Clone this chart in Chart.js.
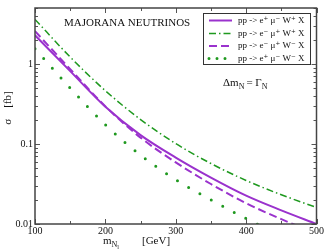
<!DOCTYPE html>
<html>
<head>
<meta charset="utf-8" />
<title>Majorana neutrinos</title>
<script src="https://cdn.jsdelivr.net/npm/chart.js@4.4.0/dist/chart.umd.min.js"></script>
<style>
  html, body { margin: 0; padding: 0; background: #fff; }
  #box { width: 325px; height: 251px; }
</style>
</head>
<body>
<div id="box"><canvas id="c"></canvas></div>
<script>
// masses in GeV
const masses = [100, 150, 200, 250, 300, 350, 400, 450, 500];
// cross sections in fb
const epMumWp = [2.28, 0.813, 0.292, 0.129, 0.0676, 0.038, 0.0226, 0.0148, 0.0100];
const emMupWp = [3.6, 1.22, 0.463, 0.202, 0.101, 0.057, 0.035, 0.0232, 0.0161];
const emMupWm = [2.57, 0.861, 0.295, 0.120, 0.0589, 0.0316, 0.0182, 0.0115, 0.0076];
const epMumWm = [1.55, 0.50, 0.174, 0.0724, 0.0359, 0.020, 0.0117, 0.0071, 0.0044];
const seriesLabels = ['pp -> e\u207A \u03BC\u207B W\u207A X', 'pp -> e\u207B \u03BC\u207A W\u207A X',
                      'pp -> e\u207B \u03BC\u207A W\u207B X', 'pp -> e\u207A \u03BC\u207B W\u207B X'];
const xTicks = [100, 200, 300, 400, 500];
const yTicks = [0.01, 0.1, 1];

const purple = '#9a32cd';
const green = '#1f991f';
const serif = '"Liberation Serif", "DejaVu Serif", serif';

function pts(ys) {
  return masses.map(function (m, i) { return { x: m, y: ys[i] }; });
}

const datasets = [
  { label: seriesLabels[0], data: pts(epMumWp), borderColor: purple, borderWidth: 2 },
  { label: seriesLabels[1], data: pts(emMupWp), borderColor: green, borderWidth: 1.5, borderDash: [7, 3, 1.5, 3] },
  { label: seriesLabels[2], data: pts(emMupWm), borderColor: purple, borderWidth: 2, borderDash: [8, 4] },
  { label: seriesLabels[3], data: pts(epMumWm), borderColor: green, borderWidth: 3, borderDash: [0, 13], borderCapStyle: 'round' }
];
datasets.forEach(function (d) {
  d.pointRadius = 0;
  d.fill = false;
  d.cubicInterpolationMode = 'monotone';
});

// frame, inward ticks, legend box and the extra texts
const decor = {
  id: 'decor',
  afterDraw: function (chart) {
    const ctx = chart.ctx;
    const a = chart.chartArea;
    const xs = chart.scales.x, ys = chart.scales.y;
    ctx.save();
    ctx.strokeStyle = '#555';
    ctx.lineWidth = 1;
    // x ticks top and bottom
    for (let v = 100; v <= 500; v += 50) {
      const px = Math.round(xs.getPixelForValue(v)) + 0.5;
      const len = (v % 100 === 0) ? 5 : 3;
      ctx.beginPath();
      ctx.moveTo(px, a.bottom); ctx.lineTo(px, a.bottom - len);
      ctx.moveTo(px, a.top); ctx.lineTo(px, a.top + len);
      ctx.stroke();
    }
    // y ticks left and right
    for (let e = -2; e <= 0; e++) {
      for (let k = 1; k <= 9; k++) {
        const v = k * Math.pow(10, e);
        if (v > ys.max) continue;
        const py = Math.round(ys.getPixelForValue(v)) + 0.5;
        const len = (k === 1) ? 5 : 3;
        ctx.beginPath();
        ctx.moveTo(a.left, py); ctx.lineTo(a.left + len, py);
        ctx.moveTo(a.right, py); ctx.lineTo(a.right - len, py);
        ctx.stroke();
      }
    }
    // frame
    ctx.strokeStyle = '#444';
    ctx.lineWidth = 1.5;
    ctx.strokeRect(a.left, a.top, a.right - a.left, a.bottom - a.top);

    // legend
    ctx.lineWidth = 1;
    ctx.strokeStyle = '#333';
    ctx.fillStyle = '#fff';
    ctx.fillRect(203.5, 13.5, 107, 51);
    ctx.strokeRect(203.5, 13.5, 107, 51);
    const rows = [20.5, 33.5, 46, 58.5];
    ctx.font = '9px ' + serif;
    ctx.textBaseline = 'middle';
    chart.data.datasets.forEach(function (d, i) {
      ctx.save();
      ctx.strokeStyle = d.borderColor;
      ctx.lineWidth = d.borderWidth;
      ctx.setLineDash(d.borderDash ? (i === 3 ? [0, 8] : d.borderDash) : []);
      ctx.lineCap = d.borderCapStyle || 'butt';
      ctx.beginPath();
      ctx.moveTo(209, rows[i]); ctx.lineTo(232, rows[i]);
      ctx.stroke();
      ctx.restore();
      ctx.fillStyle = '#111';
      ctx.textAlign = 'left';
      ctx.fillText(d.label, 238, rows[i]);
    });

    // annotations
    ctx.fillStyle = '#111';
    ctx.textBaseline = 'alphabetic';
    ctx.font = '11px ' + serif;
    ctx.fillText('MAJORANA NEUTRINOS', 64, 26);

    ctx.font = '11px ' + serif;
    let x = 223;
    ctx.fillText('\u0394m', x, 86); x += ctx.measureText('\u0394m').width;
    ctx.font = '8px ' + serif;
    ctx.fillText('N', x, 89); x += ctx.measureText('N').width + 2;
    ctx.font = '11px ' + serif;
    ctx.fillText('= \u0393', x, 86); x += ctx.measureText('= \u0393').width;
    ctx.font = '8px ' + serif;
    ctx.fillText('N', x, 89);

    // x title
    ctx.font = '11px ' + serif;
    x = 103;
    ctx.fillText('m', x, 244); x += ctx.measureText('m').width;
    ctx.font = '8px ' + serif;
    ctx.fillText('N', x, 247); x += ctx.measureText('N').width;
    ctx.font = '6px ' + serif;
    ctx.fillText('l', x, 249);
    ctx.font = '11px ' + serif;
    ctx.fillText('[GeV]', 142, 244);

    // y title
    ctx.save();
    ctx.translate(11, 108);
    ctx.rotate(-Math.PI / 2);
    ctx.textAlign = 'center';
    ctx.font = '11px ' + serif;
    ctx.fillText('\u03C3    [fb]', 0, 0);
    ctx.restore();
    ctx.restore();
  }
};

new Chart(document.getElementById('c'), {
  type: 'line',
  data: { datasets: datasets },
  plugins: [decor],
  options: {
    responsive: true,
    maintainAspectRatio: false,
    animation: false,
    layout: { padding: { top: 1, right: 8, left: 0, bottom: 0 } },
    plugins: { legend: { display: false }, tooltip: { enabled: false } },
    scales: {
      x: {
        type: 'linear', min: 100, max: 500,
        grid: { display: false, drawTicks: false }, border: { display: false },
        afterBuildTicks: function (s) { s.ticks = xTicks.map(function (v) { return { value: v }; }); },
        afterFit: function (s) { s.height = 27; },
        ticks: { font: { family: serif, size: 10 }, color: '#111', padding: 1, maxRotation: 0 }
      },
      y: {
        type: 'logarithmic', min: 0.01, max: 5,
        grid: { display: false, drawTicks: false }, border: { display: false },
        afterBuildTicks: function (s) { s.ticks = yTicks.map(function (v) { return { value: v }; }); },
        afterFit: function (s) { s.width = 35; },
        ticks: {
          font: { family: serif, size: 10 }, color: '#111', padding: 2,
          callback: function (v) { return String(v); }
        }
      }
    }
  }
});
</script>
</body>
</html>
